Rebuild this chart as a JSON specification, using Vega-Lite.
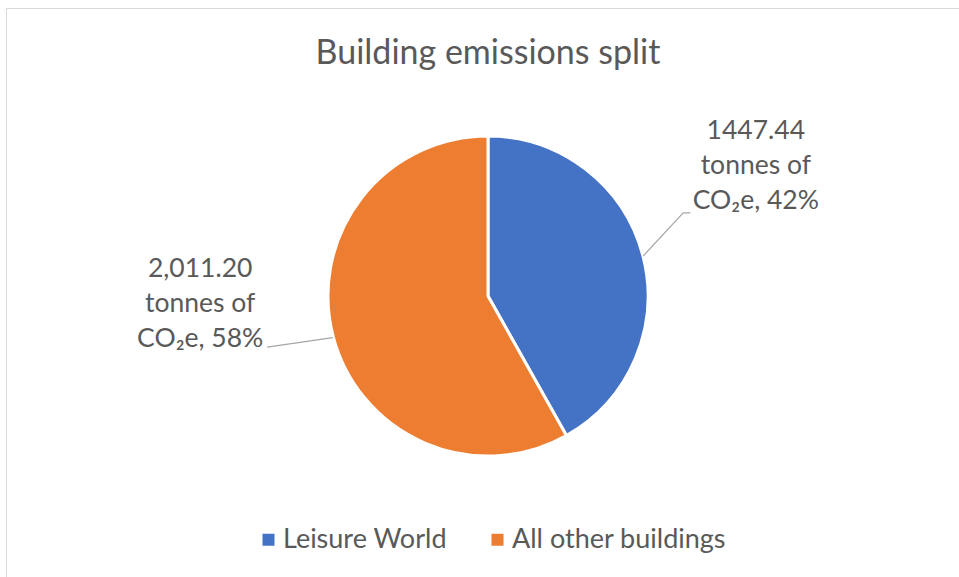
{
  "$schema": "https://vega.github.io/schema/vega-lite/v6.json",
  "autosize": {"type": "none"},
  "width": 964,
  "height": 576,
  "padding": {"left": 6, "top": 8, "right": 0, "bottom": 0},
  "background": "white",
  "config": {
    "view": {"stroke": "#d9d9d9", "strokeWidth": 1},
    "font": "Lato"
  },
  "title": {
    "text": "Building emissions split",
    "font": "Lato",
    "fontSize": 34,
    "fontWeight": "normal",
    "color": "#595959",
    "anchor": "middle",
    "baseline": "middle",
    "offset": -80
  },
  "datasets": {
    "emissions": [
      {"building": "Leisure World", "tonnes": 1447.44, "seq": 1, "label": "1447.44\ntonnes of\nCO₂e, 42%"},
      {"building": "All other buildings", "tonnes": 2011.20, "seq": 2, "label": "2,011.20\ntonnes of\nCO₂e, 58%"}
    ],
    "leaders": [
      {"building": "Leisure World", "step": 1, "u": 0.97, "v": 0.25},
      {"building": "Leisure World", "step": 2, "u": 1.22, "v": 0.52},
      {"building": "Leisure World", "step": 3, "u": 1.265, "v": 0.52},
      {"building": "All other buildings", "step": 1, "u": -0.97, "v": -0.26},
      {"building": "All other buildings", "step": 2, "u": -1.38, "v": -0.32}
    ]
  },
  "layer": [
    {
      "data": {"name": "emissions"},
      "mark": {"type": "arc", "outerRadius": 160, "stroke": "white", "strokeWidth": 3},
      "encoding": {
        "theta": {"field": "tonnes", "type": "quantitative", "stack": true},
        "order": {"field": "seq", "type": "quantitative"},
        "color": {
          "field": "building",
          "type": "nominal",
          "sort": ["Leisure World", "All other buildings"],
          "scale": {"domain": ["Leisure World", "All other buildings"], "range": ["#4472C4", "#ED7D31"]},
          "legend": {
            "title": null,
            "orient": "none",
            "direction": "horizontal",
            "legendX": 249,
            "legendY": 518,
            "padding": 0,
            "symbolType": "square",
            "symbolSize": 144,
            "symbolStrokeWidth": 0,
            "labelFont": "Lato",
            "labelFontSize": 27,
            "labelColor": "#595959",
            "labelOffset": 1,
            "labelLimit": 400,
            "columnPadding": 37
          }
        }
      }
    },
    {
      "data": {"name": "leaders"},
      "mark": {"type": "line", "color": "#a6a6a6", "strokeWidth": 1.2},
      "encoding": {
        "x": {"field": "u", "type": "quantitative", "scale": {"domain": [-3.0125, 3.0125]}, "axis": null},
        "y": {"field": "v", "type": "quantitative", "scale": {"domain": [-1.8, 1.8]}, "axis": null},
        "detail": {"field": "building"},
        "order": {"field": "step", "type": "quantitative"}
      }
    },
    {
      "data": {"name": "emissions"},
      "transform": [{"filter": "datum.building === 'Leisure World'"}],
      "mark": {"type": "text", "radius": 220, "dx": 55, "dy": -109, "lineBreak": "\n", "lineHeight": 35, "font": "Lato", "fontSize": 26.5, "color": "#595959", "align": "center", "baseline": "middle"},
      "encoding": {
        "theta": {"field": "tonnes", "type": "quantitative", "stack": true},
        "order": {"field": "seq", "type": "quantitative"},
        "text": {"field": "label"}
      }
    },
    {
      "data": {"name": "emissions"},
      "mark": {"type": "text", "radius": 220, "dx": -75, "dy": -83, "lineBreak": "\n", "lineHeight": 35, "font": "Lato", "fontSize": 26.5, "color": "#595959", "align": "center", "baseline": "middle"},
      "encoding": {
        "theta": {"field": "tonnes", "type": "quantitative", "stack": true},
        "order": {"field": "seq", "type": "quantitative"},
        "text": {"condition": {"test": "datum.building === 'All other buildings'", "field": "label"}, "value": ""}
      }
    }
  ]
}
